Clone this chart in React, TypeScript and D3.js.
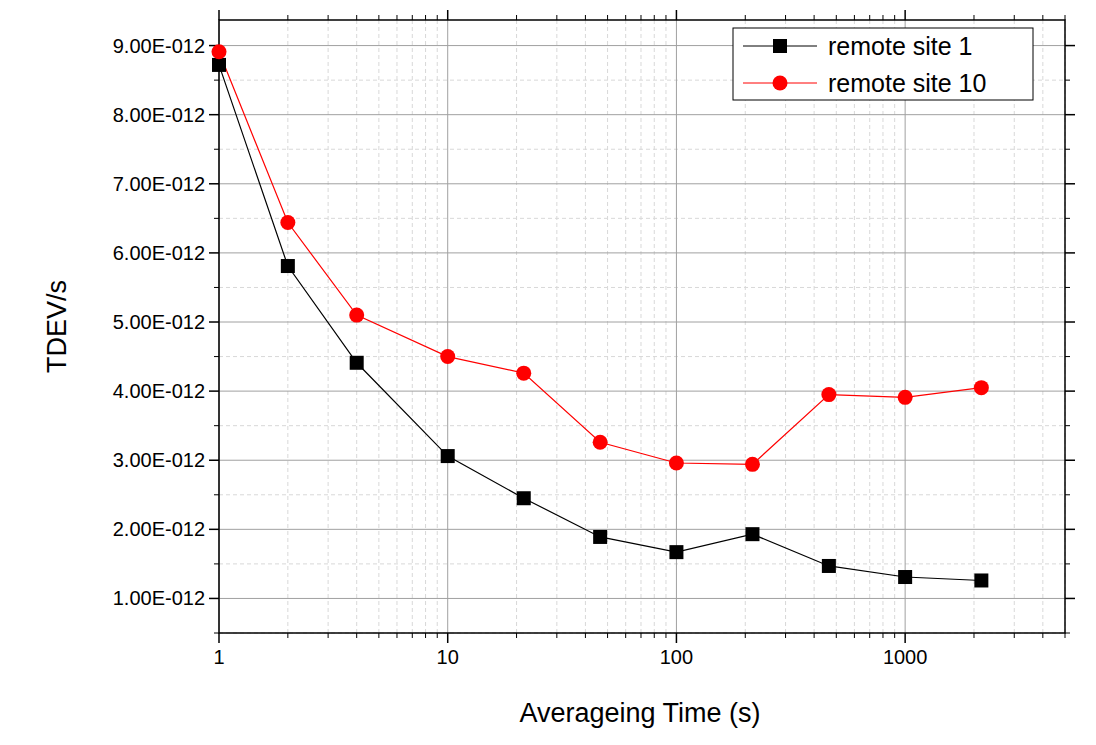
import React from "react";
import * as d3 from "d3";

const xs = [1, 2, 4, 10, 21.5, 46.4, 100, 215, 464, 1000, 2154];
const site1 = [8.72, 5.81, 4.41, 3.06, 2.45, 1.89, 1.67, 1.93, 1.47, 1.31, 1.26];
const site10 = [8.91, 6.44, 5.1, 4.5, 4.26, 3.26, 2.96, 2.94, 3.95, 3.91, 4.05];
const yTicks = [1, 2, 3, 4, 5, 6, 7, 8, 9];
const xTicks = [1, 10, 100, 1000];

export default function App() {
  const L = 219, R = 1065, T = 20, B = 633;
  const x = d3.scaleLog().domain([1, 5000]).range([L, R]);
  const y = d3.scaleLinear().domain([0.5, 9.37]).range([B, T]);
  const minorX: number[] = [];
  for (let d = 1; d <= 1000; d *= 10) for (let k = 2; k <= 9; k++) if (d * k <= 5000) minorX.push(d * k);
  const minorY = yTicks.map(v => v - 0.5).concat([9.5]).filter(v => v >= 0.5 && v <= 9.37);
  const line = d3.line<number>().x((_, i) => x(xs[i])).y(v => y(v));
  const font = "Arial, 'Liberation Sans', sans-serif";
  return (
    <svg width={1096} height={745} style={{ position: "absolute", left: 0, top: 0 }} fontFamily={font}>
      <rect width={1096} height={745} fill="white" />
      {minorX.map(v => <line key={"mx" + v} x1={x(v)} x2={x(v)} y1={T} y2={B} stroke="#d8d8d8" strokeDasharray="4,3" />)}
      {minorY.map(v => <line key={"my" + v} x1={L} x2={R} y1={y(v)} y2={y(v)} stroke="#d8d8d8" strokeDasharray="4,3" />)}
      {xTicks.map(v => <line key={"gx" + v} x1={x(v)} x2={x(v)} y1={T} y2={B} stroke="#a0a0a0" />)}
      {yTicks.map(v => <line key={"gy" + v} x1={L} x2={R} y1={y(v)} y2={y(v)} stroke="#a0a0a0" />)}
      <rect x={L} y={T} width={R - L} height={B - T} fill="none" stroke="black" strokeWidth={1.5} />
      {yTicks.map(v => (
        <g key={"ty" + v}>
          <line x1={L - 10} x2={L} y1={y(v)} y2={y(v)} stroke="black" strokeWidth={1.5} />
          <line x1={R} x2={R + 10} y1={y(v)} y2={y(v)} stroke="black" strokeWidth={1.5} />
          <text x={L - 14} y={y(v)} dy="0.35em" textAnchor="end" fontSize={20}>{v.toFixed(2) + "E-012"}</text>
        </g>
      ))}
      {minorY.map(v => (
        <g key={"tmy" + v}>
          <line x1={L - 5} x2={L} y1={y(v)} y2={y(v)} stroke="black" />
          <line x1={R} x2={R + 5} y1={y(v)} y2={y(v)} stroke="black" />
        </g>
      ))}
      {xTicks.map(v => (
        <g key={"tx" + v}>
          <line x1={x(v)} x2={x(v)} y1={B} y2={B + 10} stroke="black" strokeWidth={1.5} />
          <line x1={x(v)} x2={x(v)} y1={T - 10} y2={T} stroke="black" strokeWidth={1.5} />
          <text x={x(v)} y={B + 31} textAnchor="middle" fontSize={20}>{v}</text>
        </g>
      ))}
      {minorX.map(v => (
        <g key={"tmx" + v}>
          <line x1={x(v)} x2={x(v)} y1={B} y2={B + 5} stroke="black" />
          <line x1={x(v)} x2={x(v)} y1={T - 5} y2={T} stroke="black" />
        </g>
      ))}
      <path d={line(site1) || ""} fill="none" stroke="black" strokeWidth={1.2} />
      <path d={line(site10) || ""} fill="none" stroke="red" strokeWidth={1.2} />
      {site1.map((v, i) => <rect key={"s" + i} x={x(xs[i]) - 7} y={y(v) - 7} width={14} height={14} fill="black" />)}
      {site10.map((v, i) => <circle key={"c" + i} cx={x(xs[i])} cy={y(v)} r={7.5} fill="red" />)}
      <text x={640} y={722} textAnchor="middle" fontSize={27}>Averageing Time (s)</text>
      <text transform={`translate(66,${(T + B) / 2}) rotate(-90)`} textAnchor="middle" fontSize={27}>TDEV/s</text>
      <g>
        <rect x={733} y={28} width={300} height={72} fill="white" stroke="black" />
        <line x1={743} x2={817} y1={46} y2={46} stroke="black" />
        <rect x={773} y={39} width={14} height={14} fill="black" />
        <text x={828} y={46} dy="0.35em" fontSize={25}>remote site 1</text>
        <line x1={743} x2={817} y1={83} y2={83} stroke="red" />
        <circle cx={780} cy={83} r={7.5} fill="red" />
        <text x={828} y={83} dy="0.35em" fontSize={25}>remote site 10</text>
      </g>
    </svg>
  );
}
